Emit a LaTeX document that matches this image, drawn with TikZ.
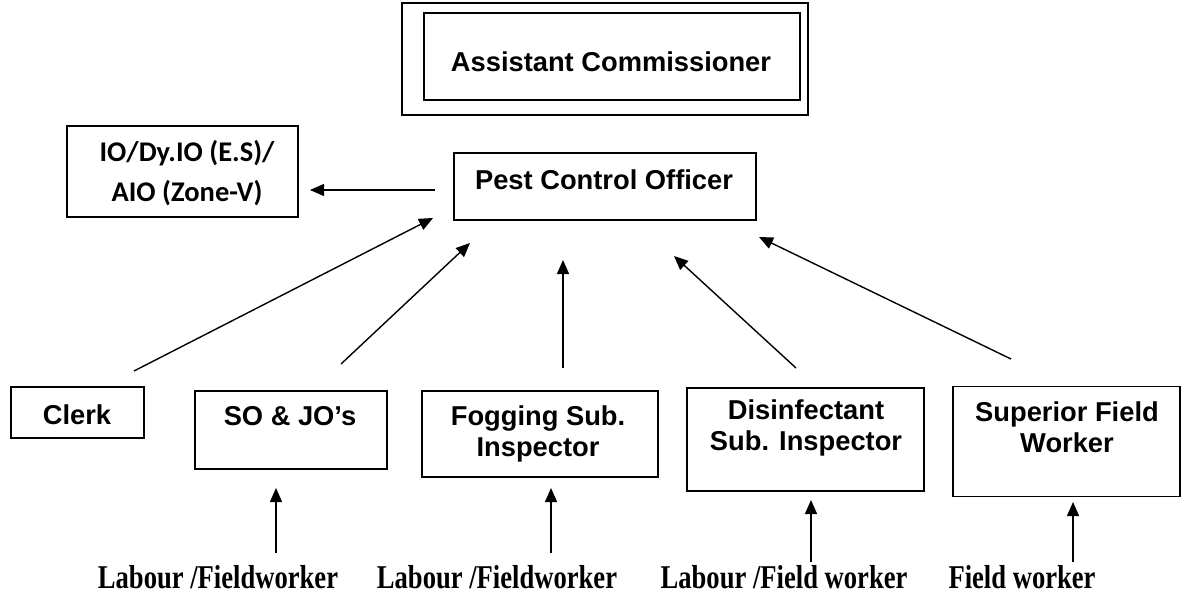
\documentclass[tikz,border=0pt]{standalone}
\usepackage{fontspec}
\usepackage{graphicx}
\setmainfont{Liberation Sans}
\newfontfamily\serifbold{Liberation Serif}
\newfontfamily\calibfont{Carlito}
\usetikzlibrary{arrows.meta}
\newcommand{\tallsc}[1]{\scalebox{1}[1.25]{#1}}
\begin{document}
\begin{tikzpicture}[x=1pt,y=-1pt,
  box/.style={draw, line width=1.2pt, inner sep=0pt, rectangle},
  txt/.style={font=\fontsize{27.3}{31}\selectfont\bfseries, align=center, inner sep=0pt},
  iotxt/.style={font=\calibfont\fontsize{28.5}{40}\selectfont\bfseries, align=center, inner sep=0pt},
  btxt/.style={font=\serifbold\fontsize{26.6}{30}\selectfont\bfseries, inner sep=0pt},
  arr/.style={line width=1.4pt, -{Triangle[length=14pt,width=12pt]}}
]
\useasboundingbox (0,0) rectangle (1182,596);
% Assistant Commissioner
\node[box, line width=2.4pt, minimum width=406pt, minimum height=112pt] (acout) at (605,59) {};
\node[box, minimum width=376pt, minimum height=87pt] (acin) at (612,56.5) {};
\node[txt] (actxt) at (611,62) {Assistant Commissioner};
% IO box
\node[box, minimum width=231pt, minimum height=91pt] (io) at (182.5,171.5) {};
\node[iotxt] (iotext) at (187,173) {IO/Dy.IO (E.S)/\\AIO (Zone-V)};
% PCO
\node[box, minimum width=302pt, minimum height=67pt] (pco) at (605,186.5) {};
\node[txt] (pcotxt) at (604,180) {Pest Control Officer};
% bottom boxes
\node[box, minimum width=133pt, minimum height=51pt] (clerk) at (77.5,412.5) {};
\node[txt] (clerktxt) at (77,415) {Clerk};
\node[box, minimum width=192pt, minimum height=78pt] (so) at (291,430) {};
\node[txt] (sotxt) at (290,416) {SO \& JO’s};
\node[box, minimum width=236pt, minimum height=86pt] (fog) at (540,434) {};
\node[txt] (fogtxt) at (538,434) {Fogging Sub.\\Inspector};
\node[box, minimum width=237pt, minimum height=103pt] (dis) at (805.5,439.5) {};
\node[txt] (distxt) at (806,428) {Disinfectant\\Sub. Inspector};
\node[box, minimum width=227pt, minimum height=110pt] (sfw) at (1066.5,441.5) {};
\node[txt] (sfwtxt) at (1067,427) {Superior Field\\Worker};
% bottom labels
\node[btxt] (l1) at (218,577) {\tallsc{Labour /Fieldworker}};
\node[btxt] (l2) at (497,577) {\tallsc{Labour /Fieldworker}};
\node[btxt] (l3) at (784,577) {\tallsc{Labour /Field worker}};
\node[btxt] (l4) at (1022,577) {\tallsc{Field worker}};
% arrow coordinates
\coordinate (pcoL) at (435,190);
\coordinate (ioR) at (310,190);
\coordinate (c1) at (134,371); \coordinate (t1) at (433,218);
\coordinate (c2) at (341,364); \coordinate (t2) at (470,243);
\coordinate (c3) at (563,368); \coordinate (t3) at (563,260);
\coordinate (c4) at (796,368); \coordinate (t4) at (674,256);
\coordinate (c5) at (1011,359); \coordinate (t5) at (759,237);
\coordinate (b1) at (276,553); \coordinate (u1) at (276,488);
\coordinate (b2) at (551,553); \coordinate (u2) at (551,488);
\coordinate (b3) at (811,562); \coordinate (u3) at (811,500);
\coordinate (b4) at (1073,562); \coordinate (u4) at (1073,502);
\draw[arr] (pcoL) -- (ioR);
\draw[arr] (c1) -- (t1);
\draw[arr] (c2) -- (t2);
\draw[arr] (c3) -- (t3);
\draw[arr] (c4) -- (t4);
\draw[arr] (c5) -- (t5);
\draw[arr] (b1) -- (u1);
\draw[arr] (b2) -- (u2);
\draw[arr] (b3) -- (u3);
\draw[arr] (b4) -- (u4);
\end{tikzpicture}
\end{document}
